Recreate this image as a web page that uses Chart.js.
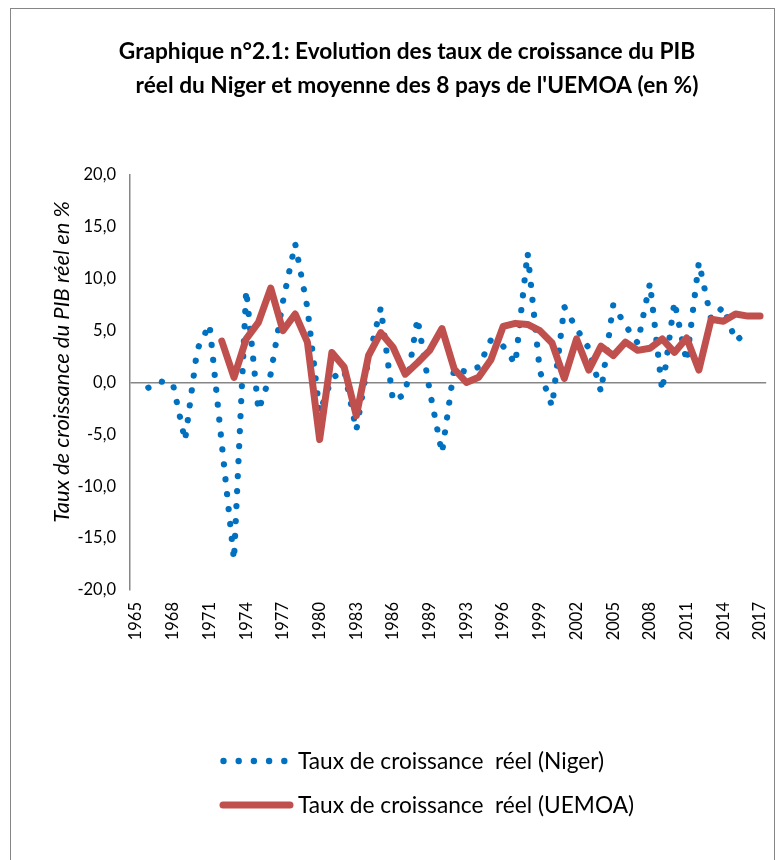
<!DOCTYPE html>
<html lang="fr">
<head>
<meta charset="utf-8">
<title>Graphique n°2.1</title>
<script src="https://cdn.jsdelivr.net/npm/chart.js@4.4.0/dist/chart.umd.min.js"></script>
<style>
    html, body { margin: 0; padding: 0; background: #fff; }
    #grafico { display: block; }
</style>
</head>
<body>
<canvas id="grafico" width="784" height="860"></canvas>
<script>
// Années de l'axe (1990 absent de la série)
const annees = [
    1965, 1966, 1967, 1968, 1969, 1970, 1971, 1972, 1973, 1974,
    1975, 1976, 1977, 1978, 1979, 1980, 1981, 1982, 1983, 1984,
    1985, 1986, 1987, 1988, 1989, 1991, 1992, 1993, 1994, 1995,
    1996, 1997, 1998, 1999, 2000, 2001, 2002, 2003, 2004, 2005,
    2006, 2007, 2008, 2009, 2010, 2011, 2012, 2013, 2014, 2015,
    2016, 2017
];

// Taux de croissance réel du Niger (%)
const tauxNiger = [
    null, -0.5, 0.1, -0.1, -5.6, 3.2, 5.6, -5.9, -17.1, 8.9,
    -2.7, 0.8, 7.8, 13.4, 7.2, -2.9, 0.4, 1.2, -4.6, 2.3,
    7.2, -1.8, -1.1, 6.2, -0.8, -6.8, 1.4, 1.0, 1.5, 4.1,
    3.5, 1.8, 12.5, 1.1, -2.3, 7.3, 5.2, 3.3, -0.9, 7.5,
    5.5, 3.8, 9.6, -0.8, 7.8, 2.0, 11.6, 6.1, 7.3, 4.0,
    4.9, null
];

// Taux de croissance réel moyen UEMOA (%)
const tauxUemoa = [
    null, null, null, null, null, null, null, 4.0, 0.5, 4.2,
    5.8, 9.1, 5.0, 6.6, 3.9, -5.5, 2.9, 1.5, -3.2, 2.6,
    4.8, 3.4, 0.8, 1.9, 3.1, 5.2, 1.3, 0.0, 0.5, 2.2,
    5.4, 5.7, 5.6, 5.0, 3.8, 0.4, 4.2, 1.2, 3.5, 2.6,
    3.9, 3.1, 3.3, 4.2, 2.9, 4.3, 1.2, 6.1, 5.9, 6.6,
    6.4, 6.4
];

const ticksY = [-20, -15, -10, -5, 0, 5, 10, 15, 20];

const titreLignes = [
    'Graphique n°2.1: Evolution des taux de croissance du PIB',
    "réel du Niger et moyenne des 8 pays de l'UEMOA (en %)"
];
const titreAxeY = 'Taux de croissance du PIB réel en %';
const legendeNiger = 'Taux de croissance  réel (Niger)';
const legendeUemoa = 'Taux de croissance  réel (UEMOA)';

const bleu = '#0070C0';
const rouge = '#C0504D';
const police = 'Lato, "Open Sans", sans-serif';

// Titre, titre de l'axe Y, légende et cadre
const decor = {
    id: 'decor',
    afterDraw(chart) {
        const ctx = chart.ctx;
        ctx.save();

        // cadre
        ctx.strokeStyle = '#868686';
        ctx.lineWidth = 1;
        ctx.strokeRect(10.5, 8.5, 764, 870);

        // titre
        ctx.fillStyle = '#000';
        ctx.textBaseline = 'middle';
        ctx.textAlign = 'center';
        ctx.font = 'bold 22.7px ' + police;
        ctx.fillText(titreLignes[0], 407, 52);
        ctx.fillText(titreLignes[1], 417, 86);

        // titre axe Y
        ctx.save();
        ctx.translate(62, 362);
        ctx.rotate(-Math.PI / 2);
        ctx.font = 'italic 22px ' + police;
        ctx.fillText(titreAxeY, 0, 0);
        ctx.restore();

        // légende
        ctx.textAlign = 'left';
        ctx.font = '22.7px ' + police;
        ctx.fillStyle = bleu;
        for (let k = 0; k < 5; k++) {
            ctx.beginPath();
            ctx.arc(223.5 + k * 15.2, 761, 3.2, 0, Math.PI * 2);
            ctx.fill();
        }
        ctx.fillStyle = '#000';
        ctx.fillText(legendeNiger, 298, 762);

        ctx.strokeStyle = rouge;
        ctx.lineWidth = 7;
        ctx.lineCap = 'round';
        ctx.beginPath();
        ctx.moveTo(223, 805);
        ctx.lineTo(290, 805);
        ctx.stroke();
        ctx.fillText(legendeUemoa, 298, 806);

        ctx.restore();
    }
};

const ctx = document.getElementById('grafico').getContext('2d');
const grafico = new Chart(ctx, {
    type: 'line',
    data: {
        labels: annees,
        datasets: [
            {
                label: legendeUemoa,
                data: tauxUemoa,
                borderColor: rouge,
                borderWidth: 7,
                borderCapStyle: 'round',
                borderJoinStyle: 'round',
                pointRadius: 0,
                tension: 0,
                order: 0
            },
            {
                label: legendeNiger,
                data: tauxNiger,
                borderColor: bleu,
                borderWidth: 6.2,
                borderDash: [0.1, 14.9],
                borderCapStyle: 'round',
                borderJoinStyle: 'round',
                pointRadius: 0,
                tension: 0,
                order: 1
            }
        ]
    },
    options: {
        responsive: false,
        animation: false,
        layout: {
            padding: { left: 10, right: 15, top: 175, bottom: 205 }
        },
        plugins: {
            legend: { display: false },
            title: { display: false },
            tooltip: { enabled: false }
        },
        scales: {
            x: {
                offset: true,
                grid: { display: false },
                border: { display: false },
                ticks: {
                    autoSkip: false,
                    maxRotation: 90,
                    minRotation: 90,
                    padding: 4,
                    color: '#000',
                    font: { family: police, size: 16.5 },
                    callback: (v, i) => (i % 3 === 0 ? annees[i] : '')
                },
                afterFit: axis => { axis.height = 65; }
            },
            y: {
                min: ticksY[0],
                max: ticksY[ticksY.length - 1],
                afterBuildTicks: axis => {
                    axis.ticks = ticksY.map(v => ({ value: v }));
                },
                grid: {
                    color: c => (c.tick && c.tick.value === 0 ? '#868686' : 'rgba(0,0,0,0)'),
                    lineWidth: 1.5,
                    drawTicks: false
                },
                border: { color: '#868686', width: 1.5 },
                ticks: {
                    padding: 14,
                    color: '#000',
                    font: { family: police, size: 16.5 },
                    callback: v => v.toFixed(1).replace('.', ',')
                },
                afterFit: axis => { axis.width = 120; }
            }
        }
    },
    plugins: [decor]
});
</script>
</body>
</html>
